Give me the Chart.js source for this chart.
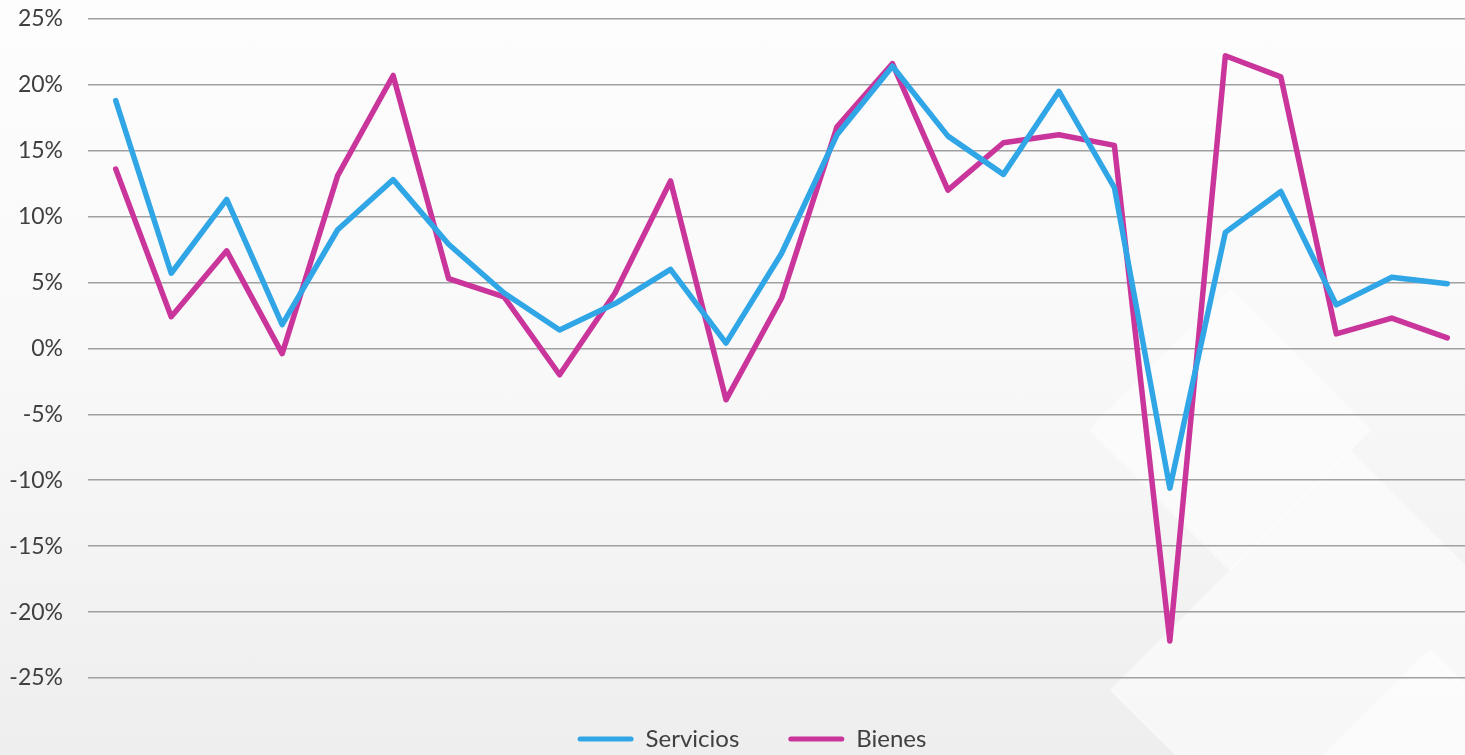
<!DOCTYPE html>
<html>
<head>
<meta charset="utf-8">
<script src="https://cdn.jsdelivr.net/npm/chart.js@4"></script>
<style>
  html, body { margin: 0; padding: 0; overflow: hidden; }
  body {
    width: 1465px; height: 755px; position: relative;
    background: linear-gradient(to bottom, #fdfdfd 0%, #f9f9f9 45%, #eeeeee 100%);
  }
  /* faint diagonal decoration, bottom right */
  .deco { position: absolute; transform: rotate(45deg); background: rgba(255,255,255,0.5); }
  #wrap { position: absolute; left: 0; top: -20px; width: 1504px; height: 781px; }
</style>
</head>
<body>
<div class="deco" style="left:1130px; top:330px; width:200px; height:200px;"></div>
<div class="deco" style="left:1180px; top:520px; width:340px; height:340px;"></div>
<div class="deco" style="left:1330px; top:690px; width:200px; height:200px;"></div>
<div id="wrap"><canvas id="chart"></canvas></div>
<script>
// growth rates (%)
var periods = ['1','2','3','4','5','6','7','8','9','10','11','12','13',
               '14','15','16','17','18','19','20','21','22','23','24','25'];
var servicios = [18.8, 5.7, 11.3, 1.8, 9.0, 12.8, 7.9, 4.2, 1.4, 3.4, 6.0, 0.4, 7.2,
                 16.2, 21.4, 16.1, 13.2, 19.5, 12.2, -10.6, 8.8, 11.9, 3.3, 5.4, 4.9];
var bienes    = [13.6, 2.4, 7.4, -0.4, 13.1, 20.7, 5.3, 3.9, -2.0, 4.2, 12.7, -3.9, 3.8,
                 16.8, 21.6, 12.0, 15.6, 16.2, 15.4, -22.2, 22.2, 20.6, 1.1, 2.3, 0.8];
var yTicks = [-25, -20, -15, -10, -5, 0, 5, 10, 15, 20, 25];

var blue = '#30A6E6';
var pink = '#C9359B';

new Chart(document.getElementById('chart'), {
  type: 'line',
  data: {
    labels: periods,
    datasets: [{
      label: 'Servicios',
      data: servicios,
      borderColor: blue,
      backgroundColor: blue,
      borderWidth: 5.5,
      pointRadius: 0,
      borderCapStyle: 'round',
      borderJoinStyle: 'round',
      tension: 0
    }, {
      label: 'Bienes',
      data: bienes,
      borderColor: pink,
      backgroundColor: pink,
      borderWidth: 5.5,
      pointRadius: 0,
      borderCapStyle: 'round',
      borderJoinStyle: 'round',
      tension: 0
    }]
  },
  options: {
    responsive: true,
    maintainAspectRatio: false,
    animation: false,
    layout: { padding: { top: 17, right: 0, bottom: 0, left: 0 } },
    plugins: {
      tooltip: { enabled: false },
      legend: {
        position: 'bottom',
        labels: {
          color: '#404040',
          font: { family: 'Lato', size: 24 },
          boxWidth: 56,
          boxHeight: 5,
          padding: 49,
          useBorderRadius: true,
          borderRadius: 2.5,
          generateLabels: function(chart) {
            return chart.data.datasets.map(function(ds, i) {
              return { text: ds.label, fillStyle: ds.borderColor, strokeStyle: ds.borderColor,
                       lineWidth: 0, datasetIndex: i, fontColor: '#404040',
                       borderRadius: 2.5 };
            });
          }
        }
      }
    },
    scales: {
      x: {
        offset: true,
        grid: { display: false },
        border: { display: false },
        ticks: { display: false },
        afterFit: function(scale) { scale.height = 0; }
      },
      y: {
        min: -25,
        max: 25,
        afterBuildTicks: function(scale) {
          scale.ticks = yTicks.map(function(v) { return { value: v }; });
        },
        afterFit: function(scale) { scale.width = 88; },
        border: { display: false },
        grid: { color: '#A0A0A0', lineWidth: 1.6, drawTicks: false },
        ticks: {
          color: '#404040',
          padding: 25,
          font: { family: 'Lato', size: 23 },
          callback: function(v) { return v + '%'; }
        }
      },
      // empty spacer on the right, the plot runs past the picture edge
      yRight: {
        position: 'right',
        min: -25,
        max: 25,
        grid: { display: false },
        border: { display: false },
        ticks: { display: false },
        afterFit: function(scale) { scale.width = 29; }
      }
    }
  }
});
</script>
</body>
</html>
